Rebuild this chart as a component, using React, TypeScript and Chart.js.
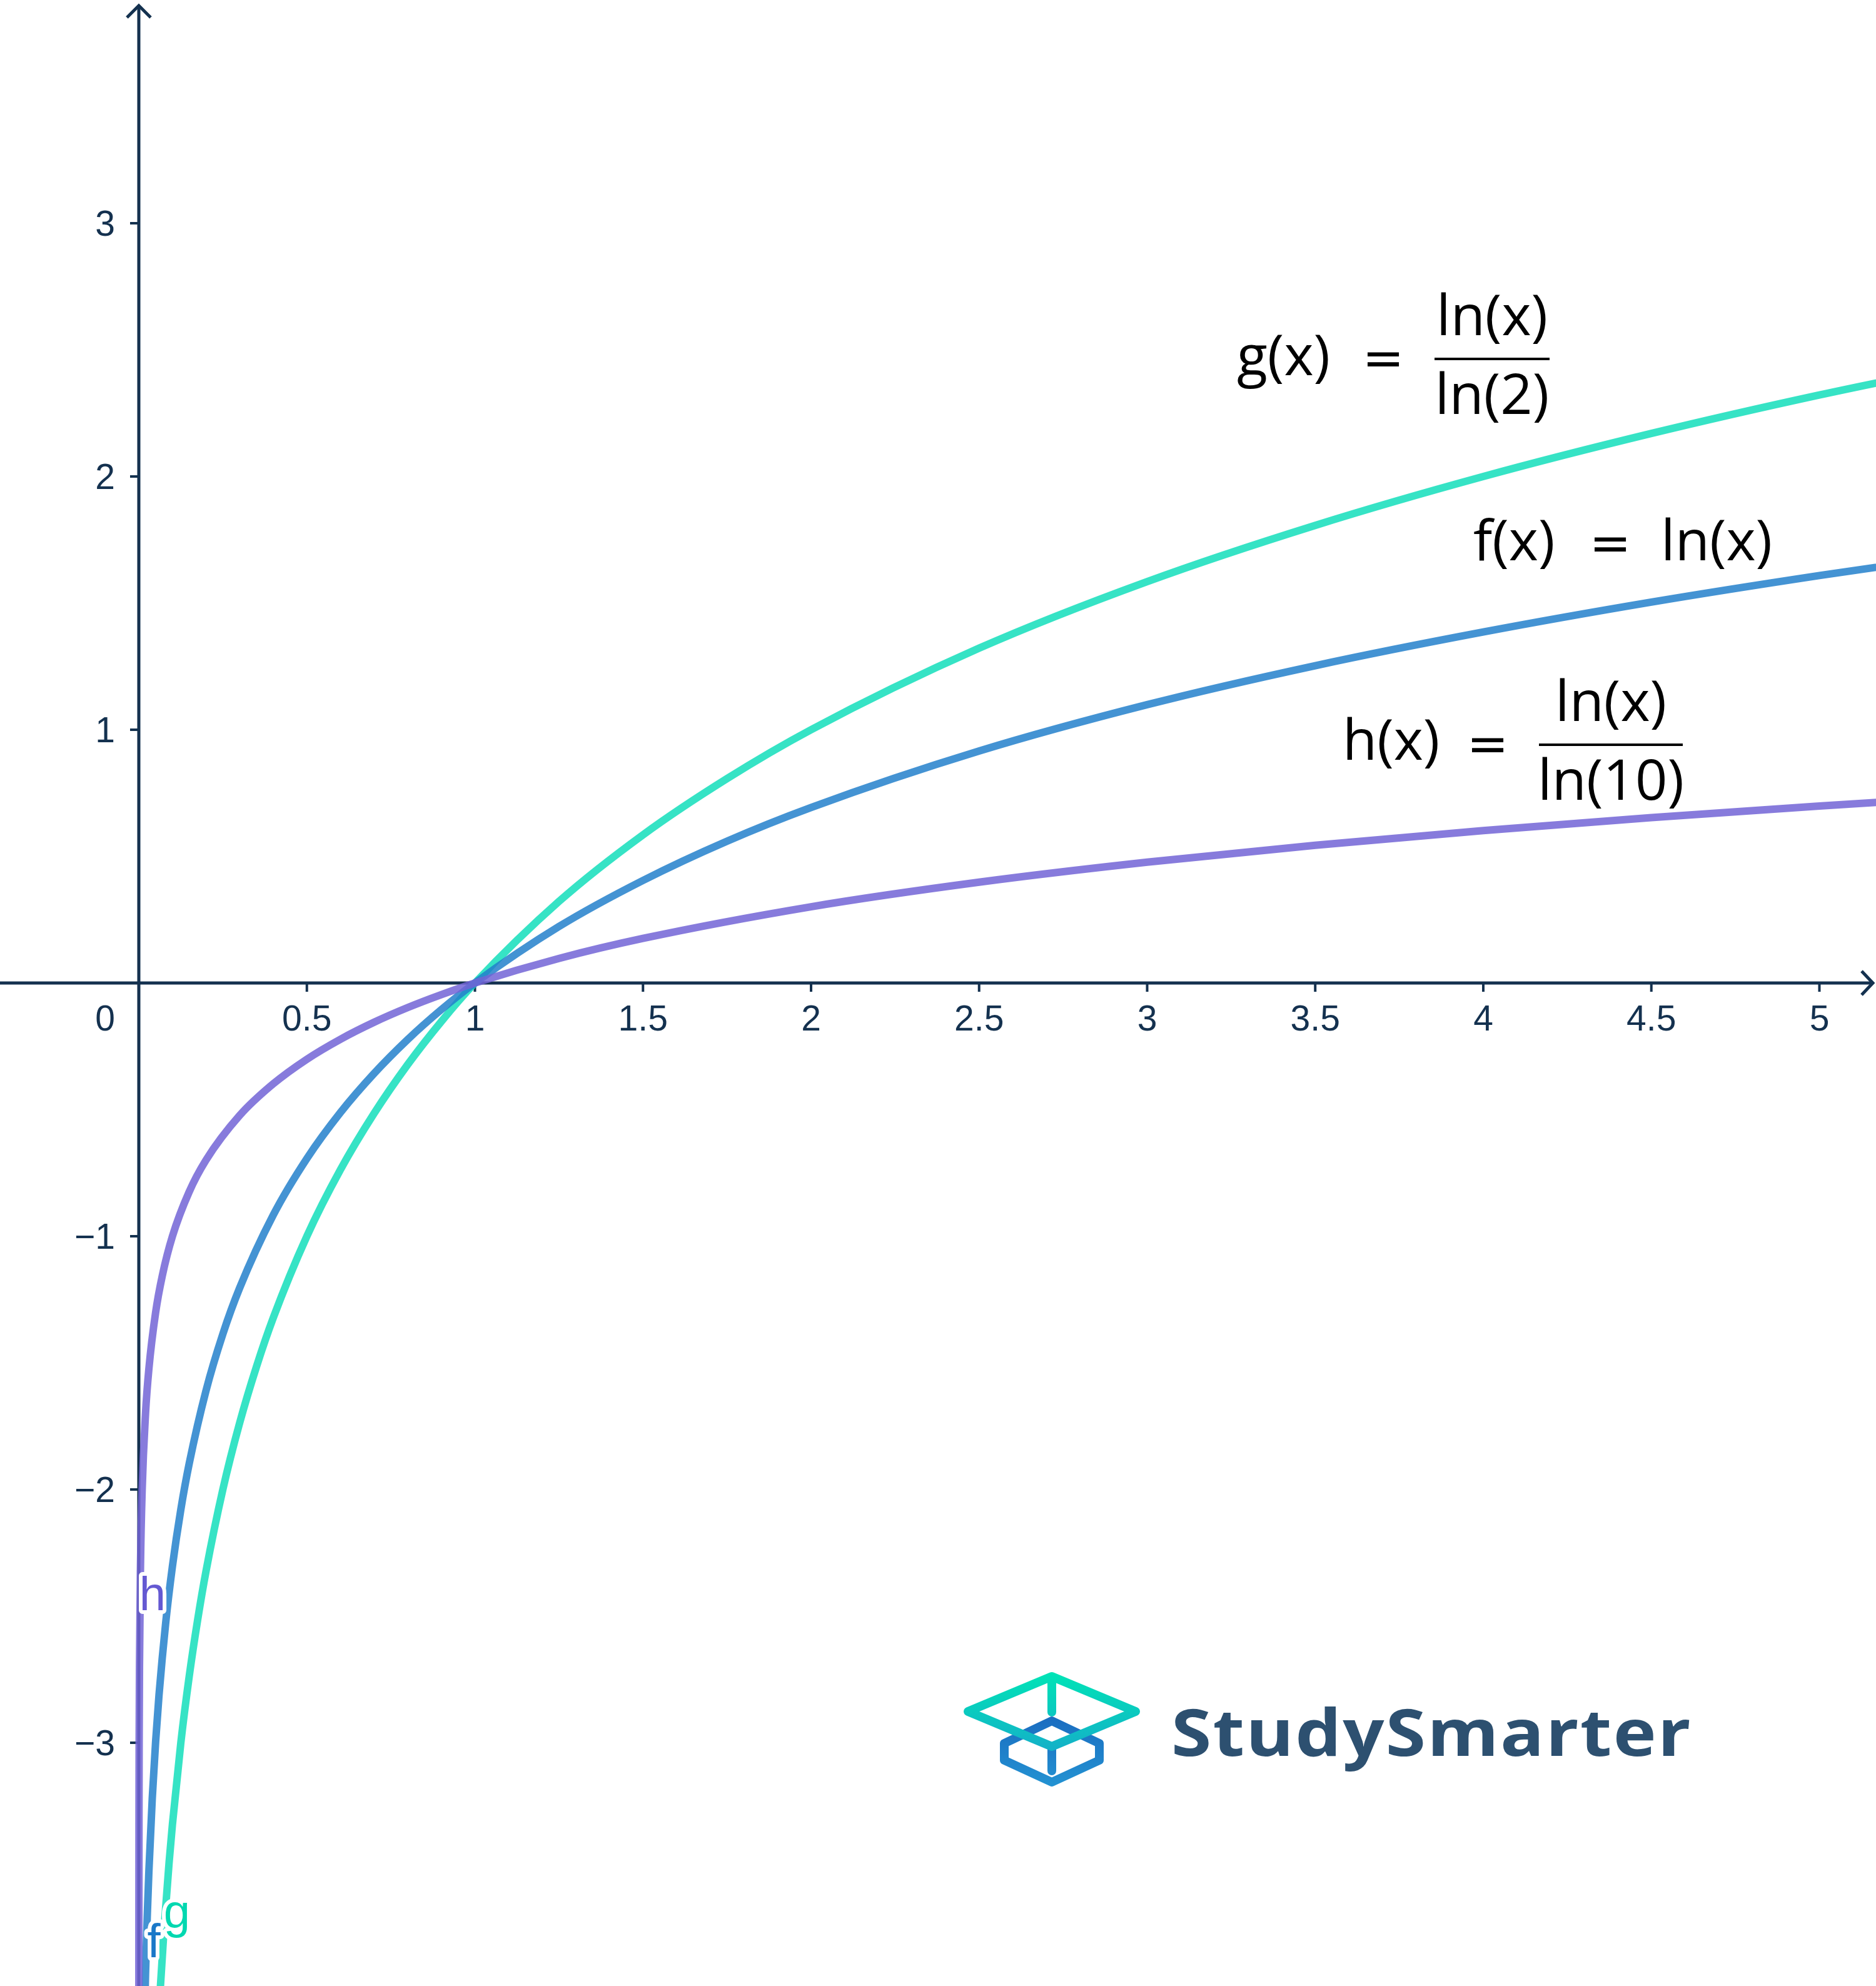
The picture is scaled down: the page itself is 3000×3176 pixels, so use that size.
import React, { useEffect, useRef } from "react";
import { Chart, registerables } from "chart.js";

Chart.register(...registerables);

// ---------- axis ranges ----------
const X_MIN = -0.413;
const X_MAX = 5.1684;
const Y_MIN = -3.9605;
const Y_MAX = 3.8815;

// ---------- ticks ----------
const xTickValues = [0.5, 1, 1.5, 2, 2.5, 3, 3.5, 4, 4.5, 5];
const xTickLabels = ["0.5", "1", "1.5", "2", "2.5", "3", "3.5", "4", "4.5", "5"];
const yTickValues = [-3, -2, -1, 1, 2, 3];
const yTickLabels = ["\u22123", "\u22122", "\u22121", "1", "2", "3"];
const originLabel = "0";

// ---------- series: f(x) = ln(x) ----------
const fX = [0.015, 0.02, 0.025, 0.03, 0.04, 0.05, 0.06, 0.08, 0.1, 0.125, 0.15, 0.2, 0.25, 0.3, 0.4, 0.5, 0.6, 0.7, 0.8, 0.9, 1, 1.25, 1.5, 1.75, 2, 2.5, 3, 3.5, 4, 4.5, 5, 5.5];
const fY = [-4.2, -3.912, -3.689, -3.507, -3.219, -2.996, -2.813, -2.526, -2.303, -2.079, -1.897, -1.609, -1.386, -1.204, -0.916, -0.693, -0.511, -0.357, -0.223, -0.105, 0, 0.223, 0.405, 0.56, 0.693, 0.916, 1.099, 1.253, 1.386, 1.504, 1.609, 1.705];

// ---------- series: g(x) = ln(x)/ln(2) ----------
const gX = [0.05, 0.0625, 0.075, 0.09, 0.1, 0.125, 0.15, 0.175, 0.2, 0.25, 0.3, 0.35, 0.4, 0.5, 0.6, 0.7, 0.8, 0.9, 1, 1.25, 1.5, 1.75, 2, 2.5, 3, 3.5, 4, 4.5, 5, 5.5];
const gY = [-4.322, -4, -3.737, -3.474, -3.322, -3, -2.737, -2.515, -2.322, -2, -1.737, -1.515, -1.322, -1, -0.737, -0.515, -0.322, -0.152, 0, 0.322, 0.585, 0.807, 1, 1.322, 1.585, 1.807, 2, 2.17, 2.322, 2.459];

// ---------- series: h(x) = ln(x)/ln(10) ----------
const hX = [0.0001, 0.0002, 0.0005, 0.001, 0.002, 0.005, 0.01, 0.02, 0.03, 0.05, 0.07, 0.1, 0.15, 0.2, 0.3, 0.4, 0.5, 0.6, 0.7, 0.8, 0.9, 1, 1.25, 1.5, 2, 2.5, 3, 3.5, 4, 4.5, 5, 5.5];
const hY = [-4, -3.699, -3.301, -3, -2.699, -2.301, -2, -1.699, -1.523, -1.301, -1.155, -1, -0.824, -0.699, -0.523, -0.398, -0.301, -0.222, -0.155, -0.097, -0.046, 0, 0.097, 0.176, 0.301, 0.398, 0.477, 0.544, 0.602, 0.653, 0.699, 0.74];

// ---------- texts ----------
const seriesNames = ["h", "f", "g"];
const gLhs = "g(x)";
const gNum = "ln(x)";
const gDen = "ln(2)";
const fLhs = "f(x)";
const fRhs = "ln(x)";
const hLhs = "h(x)";
const hNum = "ln(x)";
const hDen = "ln(10)";
const brandText = "StudySmarter";

// ---------- styles ----------
const AXIS_COLOR = "#14314f";
const H_COLOR = "rgba(114,100,214,0.85)";
const F_COLOR = "rgba(35,128,203,0.85)";
const G_COLOR = "rgba(19,222,187,0.85)";
const H_LABEL = "#6459d2";
const F_LABEL = "#1a78c8";
const G_LABEL = "#00d8b0";
const TICK_FONT = '57px "Liberation Sans", Arial, sans-serif';
const FORMULA_SIZE = 90;
const FORMULA_FONT = `${FORMULA_SIZE}px "Open Sans", "Noto Sans", sans-serif`;
const EQ_FONT = `80px "DejaVu Sans", sans-serif`;

function toPts(xs: number[], ys: number[]) {
  return xs.map((x, i) => ({ x, y: ys[i] }));
}

const axesPlugin = {
  id: "customAxes",
  beforeDatasetsDraw(chart: any) {
    const { ctx, chartArea } = chart;
    const xs = chart.scales.x;
    const ys = chart.scales.y;
    const x0 = xs.getPixelForValue(0);
    const y0 = ys.getPixelForValue(0);
    ctx.save();
    ctx.strokeStyle = AXIS_COLOR;
    ctx.fillStyle = AXIS_COLOR;
    ctx.lineCap = "butt";
    ctx.lineJoin = "miter";
    ctx.lineWidth = 5;
    // x axis
    ctx.beginPath();
    ctx.moveTo(chartArea.left, y0);
    ctx.lineTo(chartArea.right - 5, y0);
    ctx.stroke();
    ctx.beginPath();
    ctx.moveTo(chartArea.right - 23, y0 - 19);
    ctx.lineTo(chartArea.right - 5, y0);
    ctx.lineTo(chartArea.right - 23, y0 + 19);
    ctx.stroke();
    // y axis
    ctx.beginPath();
    ctx.moveTo(x0, chartArea.bottom);
    ctx.lineTo(x0, chartArea.top + 9);
    ctx.stroke();
    ctx.beginPath();
    ctx.moveTo(x0 - 19, chartArea.top + 28);
    ctx.lineTo(x0, chartArea.top + 9);
    ctx.lineTo(x0 + 19, chartArea.top + 28);
    ctx.stroke();
    // ticks
    ctx.lineWidth = 4;
    xTickValues.forEach((v) => {
      const px = xs.getPixelForValue(v);
      ctx.beginPath();
      ctx.moveTo(px, y0);
      ctx.lineTo(px, y0 + 14);
      ctx.stroke();
    });
    yTickValues.forEach((v) => {
      const py = ys.getPixelForValue(v);
      ctx.beginPath();
      ctx.moveTo(x0 - 14, py);
      ctx.lineTo(x0, py);
      ctx.stroke();
    });
    // labels
    ctx.font = TICK_FONT;
    ctx.textBaseline = "alphabetic";
    ctx.textAlign = "center";
    xTickValues.forEach((v, i) => {
      ctx.fillText(xTickLabels[i], xs.getPixelForValue(v), y0 + 76);
    });
    ctx.fillText(originLabel, x0 - 54, y0 + 76);
    ctx.textAlign = "right";
    yTickValues.forEach((v, i) => {
      ctx.fillText(yTickLabels[i], x0 - 38, ys.getPixelForValue(v) + 20);
    });
    ctx.restore();
  },
};

function drawEquals(ctx: CanvasRenderingContext2D, cx: number, axisY: number) {
  ctx.font = EQ_FONT;
  ctx.textAlign = "center";
  ctx.textBaseline = "alphabetic";
  const m = ctx.measureText("=");
  const base = axisY + (m.actualBoundingBoxAscent - m.actualBoundingBoxDescent) / 2;
  ctx.fillText("=", cx, base);
}

function drawFraction(ctx: CanvasRenderingContext2D, num: string, den: string, cx: number, axisY: number, barW: number) {
  ctx.font = FORMULA_FONT;
  ctx.textAlign = "center";
  ctx.textBaseline = "alphabetic";
  ctx.fillText(num, cx, axisY - 38);
  ctx.fillText(den, cx, axisY + 88);
  ctx.fillRect(cx - barW / 2, axisY - 2, barW, 4);
}

function haloText(ctx: CanvasRenderingContext2D, t: string, x: number, y: number, color: string) {
  ctx.font = '76px "Liberation Sans", Arial, sans-serif';
  ctx.textAlign = "center";
  ctx.textBaseline = "alphabetic";
  ctx.lineJoin = "round";
  ctx.lineWidth = 12;
  ctx.strokeStyle = "#ffffff";
  ctx.strokeText(t, x, y);
  ctx.fillStyle = color;
  ctx.fillText(t, x, y);
}

const textPlugin = {
  id: "formulas",
  afterDatasetsDraw(chart: any) {
    const ctx: CanvasRenderingContext2D = chart.ctx;
    ctx.save();
    ctx.fillStyle = "#000000";
    // g formula
    ctx.font = FORMULA_FONT;
    ctx.textAlign = "left";
    ctx.textBaseline = "alphabetic";
    ctx.fillText(gLhs, 1978, 600);
    drawEquals(ctx, 2212, 574);
    drawFraction(ctx, gNum, gDen, 2386, 574, 184);
    // f formula
    ctx.font = FORMULA_FONT;
    ctx.textAlign = "left";
    ctx.fillText(fLhs, 2356, 896);
    drawEquals(ctx, 2575, 870);
    ctx.font = FORMULA_FONT;
    ctx.textAlign = "left";
    ctx.fillText(fRhs, 2656, 896);
    // h formula
    ctx.font = FORMULA_FONT;
    ctx.textAlign = "left";
    ctx.fillText(hLhs, 2147, 1215);
    drawEquals(ctx, 2379, 1191);
    drawFraction(ctx, hNum, hDen, 2576, 1191, 230);

    // curve name labels
    haloText(ctx, seriesNames[0], 244, 2575, H_LABEL);
    haloText(ctx, seriesNames[2], 283, 3083, G_LABEL);
    haloText(ctx, seriesNames[1], 246, 3130, F_LABEL);
    ctx.restore();
  },
};

const logoPlugin = {
  id: "logo",
  afterDraw(chart: any) {
    const ctx: CanvasRenderingContext2D = chart.ctx;
    ctx.save();
    ctx.lineJoin = "round";
    ctx.lineCap = "round";
    ctx.lineWidth = 14;
    // lower cube
    const blue = ctx.createLinearGradient(0, 2745, 0, 2855);
    blue.addColorStop(0, "#1a6cc0");
    blue.addColorStop(1, "#2392d2");
    ctx.strokeStyle = blue;
    ctx.beginPath();
    ctx.moveTo(1682, 2752);
    ctx.lineTo(1758, 2788);
    ctx.lineTo(1758, 2815);
    ctx.lineTo(1682, 2850);
    ctx.lineTo(1606, 2815);
    ctx.lineTo(1606, 2788);
    ctx.closePath();
    ctx.stroke();
    ctx.beginPath();
    ctx.moveTo(1682, 2798);
    ctx.lineTo(1682, 2832);
    ctx.stroke();
    // upper diamond
    const teal = ctx.createLinearGradient(0, 2675, 0, 2800);
    teal.addColorStop(0, "#00e4b6");
    teal.addColorStop(1, "#14b0c8");
    ctx.strokeStyle = teal;
    ctx.beginPath();
    ctx.moveTo(1548, 2737);
    ctx.lineTo(1682, 2681);
    ctx.lineTo(1816, 2737);
    ctx.lineTo(1682, 2793);
    ctx.closePath();
    ctx.stroke();
    ctx.beginPath();
    ctx.moveTo(1682, 2684);
    ctx.lineTo(1682, 2738);
    ctx.stroke();
    // brand text
    ctx.fillStyle = "#2d5070";
    ctx.font = 'bold 104px "Open Sans", "Noto Sans", sans-serif';
    ctx.textAlign = "left";
    ctx.textBaseline = "alphabetic";
    const target = 833;
    const anyCtx = ctx as any;
    if ("letterSpacing" in anyCtx) anyCtx.letterSpacing = "2px";
    const w = ctx.measureText(brandText).width;
    ctx.translate(1873, 2808);
    ctx.scale(target / w, 1);
    ctx.fillText(brandText, 0, 0);
    ctx.restore();
  },
};

export default function App() {
  const canvasRef = useRef<HTMLCanvasElement | null>(null);

  useEffect(() => {
    const canvas = canvasRef.current;
    if (!canvas) return;
    const common = {
      showLine: true,
      pointRadius: 0,
      pointHoverRadius: 0,
      borderWidth: 12,
      fill: false,
      cubicInterpolationMode: "monotone" as const,
    };
    const chart = new Chart(canvas, {
      type: "scatter",
      data: {
        datasets: [
          { label: seriesNames[0], data: toPts(hX, hY), borderColor: H_COLOR, backgroundColor: H_COLOR, ...common },
          { label: seriesNames[1], data: toPts(fX, fY), borderColor: F_COLOR, backgroundColor: F_COLOR, ...common },
          { label: seriesNames[2], data: toPts(gX, gY), borderColor: G_COLOR, backgroundColor: G_COLOR, ...common },
        ],
      },
      options: {
        animation: false,
        responsive: false,
        devicePixelRatio: 1,
        events: [],
        layout: { padding: 0 },
        plugins: { legend: { display: false }, tooltip: { enabled: false } },
        scales: {
          x: { type: "linear", min: X_MIN, max: X_MAX, display: false },
          y: { type: "linear", min: Y_MIN, max: Y_MAX, display: false },
        },
      },
      plugins: [axesPlugin, textPlugin, logoPlugin],
    });
    return () => chart.destroy();
  }, []);

  return (
    <div style={{ position: "absolute", left: 0, top: 0, width: 3000, height: 3176, background: "#ffffff" }}>
      <canvas ref={canvasRef} width={3000} height={3176} style={{ display: "block", width: 3000, height: 3176 }} />
    </div>
  );
}
